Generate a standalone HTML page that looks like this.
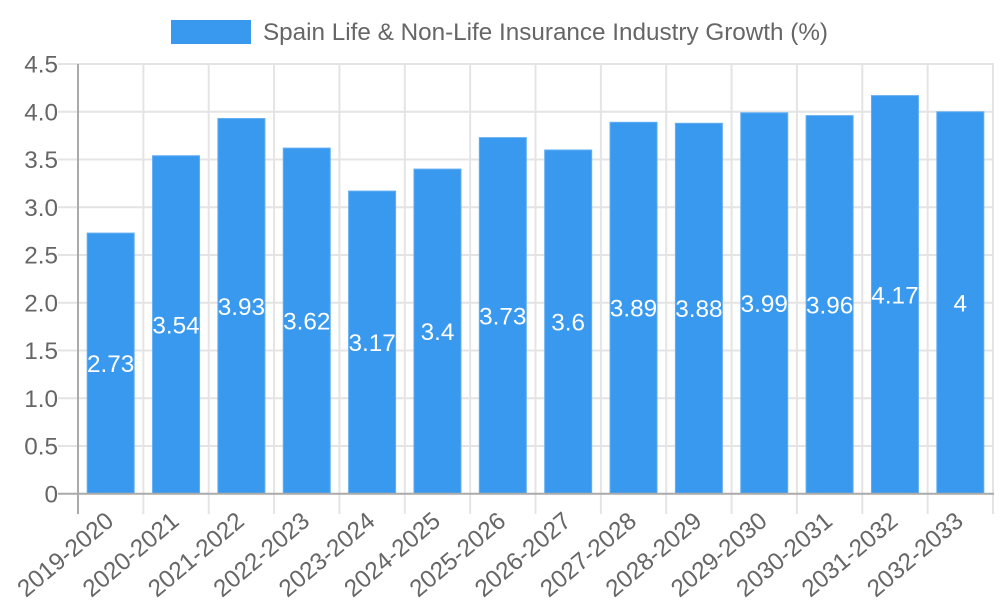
<!DOCTYPE html>
<html>
<head>
<meta charset="utf-8">
<style>
html,body{margin:0;padding:0;background:#fff;}
svg{display:block;}
text{font-family:"Liberation Sans",Arial,sans-serif;}
</style>
</head>
<body>
<svg width="1000" height="600" viewBox="0 0 1000 600" xmlns="http://www.w3.org/2000/svg">
<rect width="1000" height="600" fill="#fff"/>
<!-- legend -->
<rect x="171" y="20" width="80" height="24" fill="#3899ef"/>
<text x="263" y="40" font-size="24.3" fill="#666" textLength="565" lengthAdjust="spacingAndGlyphs">Spain Life &amp; Non-Life Insurance Industry Growth (%)</text>

<!-- horizontal gridlines -->
<g stroke="#e4e4e4" stroke-width="2">
<line x1="58" y1="64.05" x2="994" y2="64.05"/>
<line x1="58" y1="111.8" x2="994" y2="111.8"/>
<line x1="58" y1="159.55" x2="994" y2="159.55"/>
<line x1="58" y1="207.3" x2="994" y2="207.3"/>
<line x1="58" y1="255.05" x2="994" y2="255.05"/>
<line x1="58" y1="302.8" x2="994" y2="302.8"/>
<line x1="58" y1="350.55" x2="994" y2="350.55"/>
<line x1="58" y1="398.3" x2="994" y2="398.3"/>
<line x1="58" y1="446.05" x2="994" y2="446.05"/>
</g>
<!-- vertical gridlines -->
<g stroke="#e4e4e4" stroke-width="2">
<line x1="143.36" y1="64" x2="143.36" y2="514"/>
<line x1="208.71" y1="64" x2="208.71" y2="514"/>
<line x1="274.07" y1="64" x2="274.07" y2="514"/>
<line x1="339.43" y1="64" x2="339.43" y2="514"/>
<line x1="404.79" y1="64" x2="404.79" y2="514"/>
<line x1="470.14" y1="64" x2="470.14" y2="514"/>
<line x1="535.5" y1="64" x2="535.5" y2="514"/>
<line x1="600.86" y1="64" x2="600.86" y2="514"/>
<line x1="666.21" y1="64" x2="666.21" y2="514"/>
<line x1="731.57" y1="64" x2="731.57" y2="514"/>
<line x1="796.93" y1="64" x2="796.93" y2="514"/>
<line x1="862.29" y1="64" x2="862.29" y2="514"/>
<line x1="927.64" y1="64" x2="927.64" y2="514"/>
<line x1="993" y1="64" x2="993" y2="514"/>
</g>

<!-- bars -->
<g fill="#3899ef" stroke="#62aef2" stroke-width="1">
<rect x="87.18" y="233.1" width="47" height="260.7"/>
<rect x="152.54" y="155.73" width="47" height="338.07"/>
<rect x="217.89" y="118.5" width="47" height="375.3"/>
<rect x="283.25" y="148.1" width="47" height="345.7"/>
<rect x="348.61" y="191.1" width="47" height="302.7"/>
<rect x="413.96" y="169.1" width="47" height="324.7"/>
<rect x="479.32" y="137.6" width="47" height="356.2"/>
<rect x="544.68" y="150.0" width="47" height="343.8"/>
<rect x="610.04" y="122.3" width="47" height="371.5"/>
<rect x="675.39" y="123.3" width="47" height="370.5"/>
<rect x="740.75" y="112.8" width="47" height="381.0"/>
<rect x="806.11" y="115.6" width="47" height="378.2"/>
<rect x="871.46" y="95.6" width="47" height="398.2"/>
<rect x="936.82" y="111.8" width="47" height="382.0"/>
</g>

<!-- axes -->
<g stroke="#aaaaaa" stroke-width="2">
<line x1="78" y1="64" x2="78" y2="514"/>
<line x1="58" y1="493.8" x2="994" y2="493.8"/>
</g>

<!-- y tick labels -->
<g font-size="24.3" fill="#666" text-anchor="end">
<text x="58" y="502.4">0</text>
<text x="58" y="454.65">0.5</text>
<text x="58" y="406.9">1.0</text>
<text x="58" y="359.15">1.5</text>
<text x="58" y="311.4">2.0</text>
<text x="58" y="263.65">2.5</text>
<text x="58" y="215.9">3.0</text>
<text x="58" y="168.15">3.5</text>
<text x="58" y="120.4">4.0</text>
<text x="58" y="72.65">4.5</text>
</g>

<!-- data labels -->
<g font-size="24.3" fill="#fff" text-anchor="middle">
<text x="110.68" y="372.05">2.73</text>
<text x="176.04" y="333.4">3.54</text>
<text x="241.39" y="314.75">3.93</text>
<text x="306.75" y="329.55">3.62</text>
<text x="372.11" y="351.05">3.17</text>
<text x="437.46" y="340.05">3.4</text>
<text x="502.82" y="324.3">3.73</text>
<text x="568.18" y="330.5">3.6</text>
<text x="633.54" y="316.65">3.89</text>
<text x="698.89" y="317.15">3.88</text>
<text x="764.25" y="311.9">3.99</text>
<text x="829.61" y="313.3">3.96</text>
<text x="894.96" y="303.3">4.17</text>
<text x="960.32" y="311.4">4</text>
</g>

<!-- x tick labels -->
<g font-size="24.3" fill="#666" text-anchor="end">
<text x="109.68" y="525.4" transform="rotate(-40 109.68 517)">2019-2020</text>
<text x="175.04" y="525.4" transform="rotate(-40 175.04 517)">2020-2021</text>
<text x="240.39" y="525.4" transform="rotate(-40 240.39 517)">2021-2022</text>
<text x="305.75" y="525.4" transform="rotate(-40 305.75 517)">2022-2023</text>
<text x="371.11" y="525.4" transform="rotate(-40 371.11 517)">2023-2024</text>
<text x="436.46" y="525.4" transform="rotate(-40 436.46 517)">2024-2025</text>
<text x="501.82" y="525.4" transform="rotate(-40 501.82 517)">2025-2026</text>
<text x="567.18" y="525.4" transform="rotate(-40 567.18 517)">2026-2027</text>
<text x="632.54" y="525.4" transform="rotate(-40 632.54 517)">2027-2028</text>
<text x="697.89" y="525.4" transform="rotate(-40 697.89 517)">2028-2029</text>
<text x="763.25" y="525.4" transform="rotate(-40 763.25 517)">2029-2030</text>
<text x="828.61" y="525.4" transform="rotate(-40 828.61 517)">2030-2031</text>
<text x="893.96" y="525.4" transform="rotate(-40 893.96 517)">2031-2032</text>
<text x="959.32" y="525.4" transform="rotate(-40 959.32 517)">2032-2033</text>
</g>
</svg>
</body>
</html>
